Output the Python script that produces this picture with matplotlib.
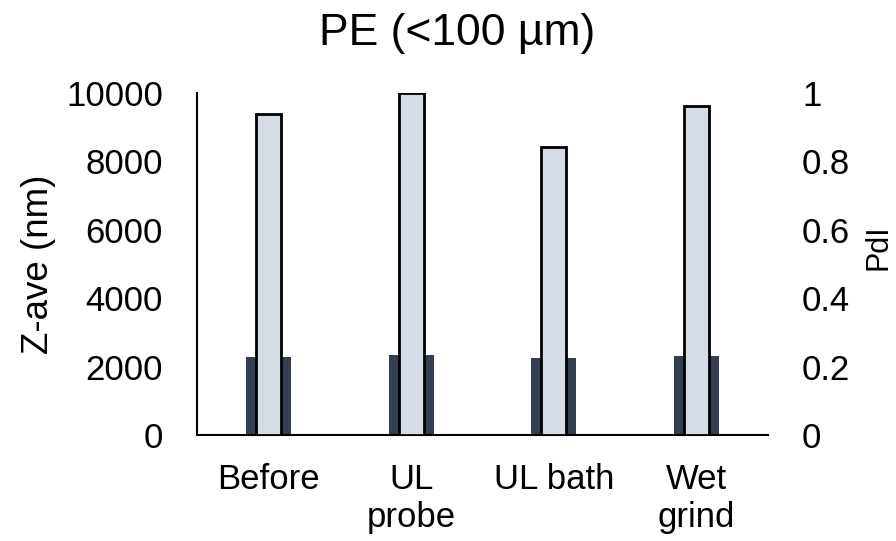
import matplotlib.pyplot as plt
import numpy as np

plt.rcParams['font.family'] = ['Liberation Sans', 'DejaVu Sans']

# ---------------------------
# data
# ---------------------------
categories = ["Before", "UL\nprobe", "UL bath", "Wet\ngrind"]
z_ave = [2270, 2350, 2240, 2310]        # nm, left axis
pdi = [0.94, 1.0, 0.843, 0.963]         # right axis

z_ticks = [0, 2000, 4000, 6000, 8000, 10000]
pdi_ticks = [0, 0.2, 0.4, 0.6, 0.8, 1.0]
pdi_labels = ["0", "0.2", "0.4", "0.6", "0.8", "1"]

# ---------------------------
# plot
# ---------------------------
fig = plt.figure(figsize=(8.96, 5.41), dpi=100)
ax = fig.add_axes([0.2199, 0.196, 0.6373, 0.632])
x = np.arange(len(categories))

ax.bar(x, z_ave, width=0.315, color="#333f50", zorder=1)
ax.set_xlim(-0.5, len(categories) - 0.5)
ax.set_ylim(0, 10000)
ax.set_yticks(z_ticks)
ax.set_xticks(x)
ax.set_xticklabels(categories, fontsize=25, linespacing=1.2)
ax.tick_params(axis="y", length=0, pad=24.5, labelsize=25)
ax.tick_params(axis="x", length=0, pad=20)
ax.set_ylabel("Z-ave (nm)", fontsize=26.5, labelpad=7)
for s in ["top", "right"]:
    ax.spines[s].set_visible(False)
ax.spines["left"].set_linewidth(1.5)
ax.spines["bottom"].set_linewidth(1.5)

ax2 = ax.twinx()
ax2.bar(x, pdi, width=0.175, color="#d6dce5", edgecolor="black", linewidth=2.0, zorder=2)
ax2.set_ylim(0, 1)
ax2.set_yticks(pdi_ticks)
ax2.set_yticklabels(pdi_labels)
ax2.tick_params(axis="y", length=0, pad=24.5, labelsize=25)
ax2.set_ylabel("PdI", fontsize=22)
ax2.yaxis.set_label_coords(1.1664, 0.55)
for s in ["top", "right", "left", "bottom"]:
    ax2.spines[s].set_visible(False)

fig.text(0.5106, 1 - 45 / 541, "PE (<100 µm)", fontsize=32,
         ha="center", va="baseline")

fig.savefig("out.png", dpi=100)
